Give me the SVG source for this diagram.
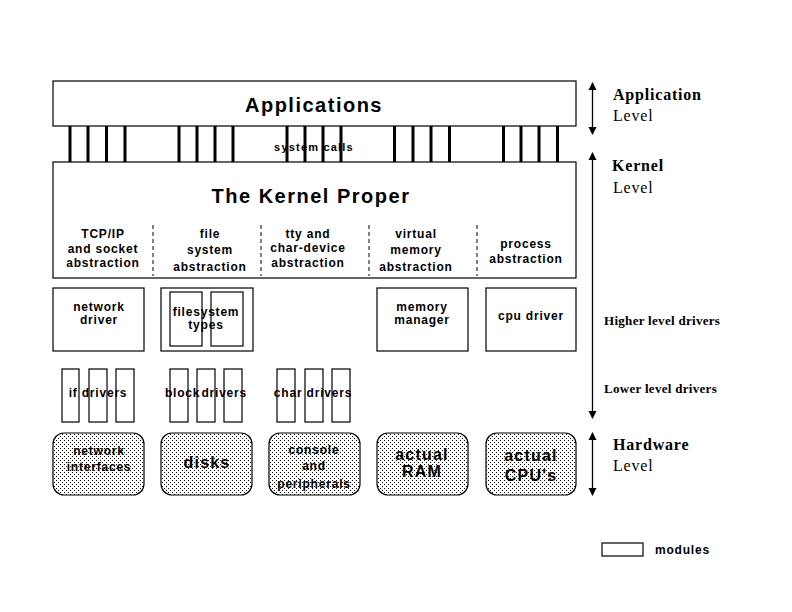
<svg xmlns="http://www.w3.org/2000/svg" width="792" height="612" viewBox="0 0 792 612">
<defs>
<pattern id="stip" width="4" height="4" patternUnits="userSpaceOnUse">
<rect width="4" height="4" fill="#ffffff"/>
<rect x="0" y="0" width="1" height="1" fill="#000000"/>
<rect x="2" y="2" width="1" height="1" fill="#000000"/>
</pattern>
<marker id="ah" viewBox="0 0 8 10" refX="7" refY="5" markerWidth="8" markerHeight="10" markerUnits="userSpaceOnUse" orient="auto-start-reverse">
<path d="M0,1 L8,5 L0,9 z" fill="#000"/>
</marker>
<style>
.box{fill:#fff;stroke:#000;stroke-width:1.2}
.hw{fill:url(#stip);stroke:#000;stroke-width:1.2}
.sc{stroke:#000;stroke-width:3}
.dash{stroke:#000;stroke-width:1;stroke-dasharray:4 3}
.arr{stroke:#000;stroke-width:1.3;fill:none;marker-start:url(#ah);marker-end:url(#ah)}
.big{font-family:"Liberation Sans",Arial,sans-serif;font-weight:bold;font-size:20px;letter-spacing:1.5px;text-anchor:middle}
.t{font-family:"Liberation Sans",Arial,sans-serif;font-weight:bold;font-size:12px;letter-spacing:0.8px;text-anchor:middle}
.s{font-family:"Liberation Sans",Arial,sans-serif;font-weight:bold;font-size:11px;letter-spacing:1.2px;text-anchor:middle}
.m{font-family:"Liberation Sans",Arial,sans-serif;font-weight:bold;font-size:16px;letter-spacing:1.2px;text-anchor:middle}
.lv{font-family:"Liberation Serif","Times New Roman",serif;font-size:16px;letter-spacing:0.8px}
.lvb{font-family:"Liberation Serif","Times New Roman",serif;font-weight:bold;font-size:16px;letter-spacing:0.8px}
.dr{font-family:"Liberation Serif","Times New Roman",serif;font-weight:bold;font-size:13px;letter-spacing:0.3px}
</style>
</defs>
<rect width="792" height="612" fill="#fff"/>

<g id="connectors">
<line class="sc" x1="70" y1="126" x2="70" y2="162"/>
<line class="sc" x1="88" y1="126" x2="88" y2="162"/>
<line class="sc" x1="106.5" y1="126" x2="106.5" y2="162"/>
<line class="sc" x1="125" y1="126" x2="125" y2="162"/>
<line class="sc" x1="179" y1="126" x2="179" y2="162"/>
<line class="sc" x1="197" y1="126" x2="197" y2="162"/>
<line class="sc" x1="215" y1="126" x2="215" y2="162"/>
<line class="sc" x1="233" y1="126" x2="233" y2="162"/>
<line class="sc" x1="287" y1="126" x2="287" y2="162"/>
<line class="sc" x1="305" y1="126" x2="305" y2="162"/>
<line class="sc" x1="323" y1="126" x2="323" y2="162"/>
<line class="sc" x1="341" y1="126" x2="341" y2="162"/>
<line class="sc" x1="394.5" y1="126" x2="394.5" y2="162"/>
<line class="sc" x1="413" y1="126" x2="413" y2="162"/>
<line class="sc" x1="431" y1="126" x2="431" y2="162"/>
<line class="sc" x1="449.5" y1="126" x2="449.5" y2="162"/>
<line class="sc" x1="503.5" y1="126" x2="503.5" y2="162"/>
<line class="sc" x1="521" y1="126" x2="521" y2="162"/>
<line class="sc" x1="539" y1="126" x2="539" y2="162"/>
<line class="sc" x1="557.5" y1="126" x2="557.5" y2="162"/>
<line class="arr" x1="592.5" y1="83" x2="592.5" y2="134"/>
<line class="arr" x1="592.5" y1="153" x2="592.5" y2="418"/>
<line class="arr" x1="592.5" y1="433" x2="592.5" y2="495"/>
</g>
<text class="s" x="314" y="151">system calls</text>

<g id="applications">
<rect class="box" x="53" y="81" width="523" height="45"/>
<text class="big" x="314" y="112">Applications</text>
</g>

<g id="kernel">
<rect class="box" x="53" y="162" width="523" height="116"/>
<text class="big" x="311" y="203">The Kernel Proper</text>
<line class="dash" x1="153" y1="225" x2="153" y2="276"/>
<line class="dash" x1="261" y1="225" x2="261" y2="276"/>
<line class="dash" x1="369" y1="225" x2="369" y2="276"/>
<line class="dash" x1="477" y1="225" x2="477" y2="276"/>
<text class="t" x="103" y="238">TCP/IP</text>
<text class="t" x="103" y="253">and socket</text>
<text class="t" x="103" y="267">abstraction</text>
<text class="t" x="210" y="238">file</text>
<text class="t" x="210" y="254">system</text>
<text class="t" x="210" y="271">abstraction</text>
<text class="t" x="308" y="238">tty and</text>
<text class="t" x="308" y="252">char-device</text>
<text class="t" x="308" y="267">abstraction</text>
<text class="t" x="416" y="238">virtual</text>
<text class="t" x="416" y="254">memory</text>
<text class="t" x="416" y="271">abstraction</text>
<text class="t" x="526" y="248">process</text>
<text class="t" x="526" y="263">abstraction</text>
</g>

<g id="network-driver">
<rect class="box" x="53" y="288" width="91" height="63"/>
<text class="t" x="99" y="311">network</text>
<text class="t" x="99" y="324">driver</text>
</g>

<g id="filesystem-types">
<rect class="box" x="161" y="288" width="92" height="63"/>
<rect class="box" x="170" y="292" width="32" height="54"/>
<rect class="box" x="211" y="292" width="32" height="54"/>
<text class="t" x="206" y="316">filesystem</text>
<text class="t" x="206" y="329">types</text>
</g>

<g id="memory-manager">
<rect class="box" x="377" y="288" width="91" height="63"/>
<text class="t" x="422" y="311">memory</text>
<text class="t" x="422" y="324">manager</text>
</g>

<g id="cpu-driver">
<rect class="box" x="486" y="288" width="90" height="63"/>
<text class="t" x="531" y="320">cpu driver</text>
</g>

<g id="if-drivers">
<rect class="box" x="62" y="369" width="17" height="53"/>
<rect class="box" x="89" y="369" width="18" height="53"/>
<rect class="box" x="116" y="369" width="18" height="53"/>
<text class="t" x="98" y="397">if drivers</text>
</g>

<g id="block-drivers">
<rect class="box" x="170" y="369" width="18" height="53"/>
<rect class="box" x="197" y="369" width="18" height="53"/>
<rect class="box" x="224" y="369" width="18" height="53"/>
<text class="t" x="206" y="397" word-spacing="-3">block drivers</text>
</g>

<g id="char-drivers">
<rect class="box" x="277" y="369" width="18" height="53"/>
<rect class="box" x="305" y="369" width="18" height="53"/>
<rect class="box" x="332" y="369" width="18" height="53"/>
<text class="t" x="313" y="397">char drivers</text>
</g>

<g id="network-interfaces">
<rect class="hw" x="53" y="433" width="91" height="62" rx="11"/>
<text class="t" x="99" y="455">network</text>
<text class="t" x="99" y="471">interfaces</text>
</g>

<g id="disks">
<rect class="hw" x="161" y="433" width="91" height="62" rx="11"/>
<text class="m" x="207" y="468">disks</text>
</g>

<g id="console">
<rect class="hw" x="269" y="433" width="91" height="62" rx="11"/>
<text class="t" x="314" y="454">console</text>
<text class="t" x="314" y="470">and</text>
<text class="t" x="314" y="488">peripherals</text>
</g>

<g id="ram">
<rect class="hw" x="377" y="433" width="91" height="62" rx="11"/>
<text class="m" x="422" y="460">actual</text>
<text class="m" x="422" y="477">RAM</text>
</g>

<g id="cpus">
<rect class="hw" x="486" y="433" width="90" height="62" rx="11"/>
<text class="m" x="531" y="461">actual</text>
<text class="m" x="531" y="481">CPU's</text>
</g>

<g id="levels">
<text class="lvb" x="613" y="100">Application</text>
<text class="lv" x="613" y="121">Level</text>
<text class="lvb" x="612" y="171">Kernel</text>
<text class="lv" x="613" y="193">Level</text>
<text class="dr" x="604" y="325">Higher level drivers</text>
<text class="dr" x="604" y="393">Lower level drivers</text>
<text class="lvb" x="613" y="450">Hardware</text>
<text class="lv" x="613" y="471">Level</text>
</g>

<g id="legend">
<rect class="box" x="602" y="543" width="41" height="13"/>
<text class="t" x="655" y="554" style="text-anchor:start">modules</text>
</g>
</svg>
